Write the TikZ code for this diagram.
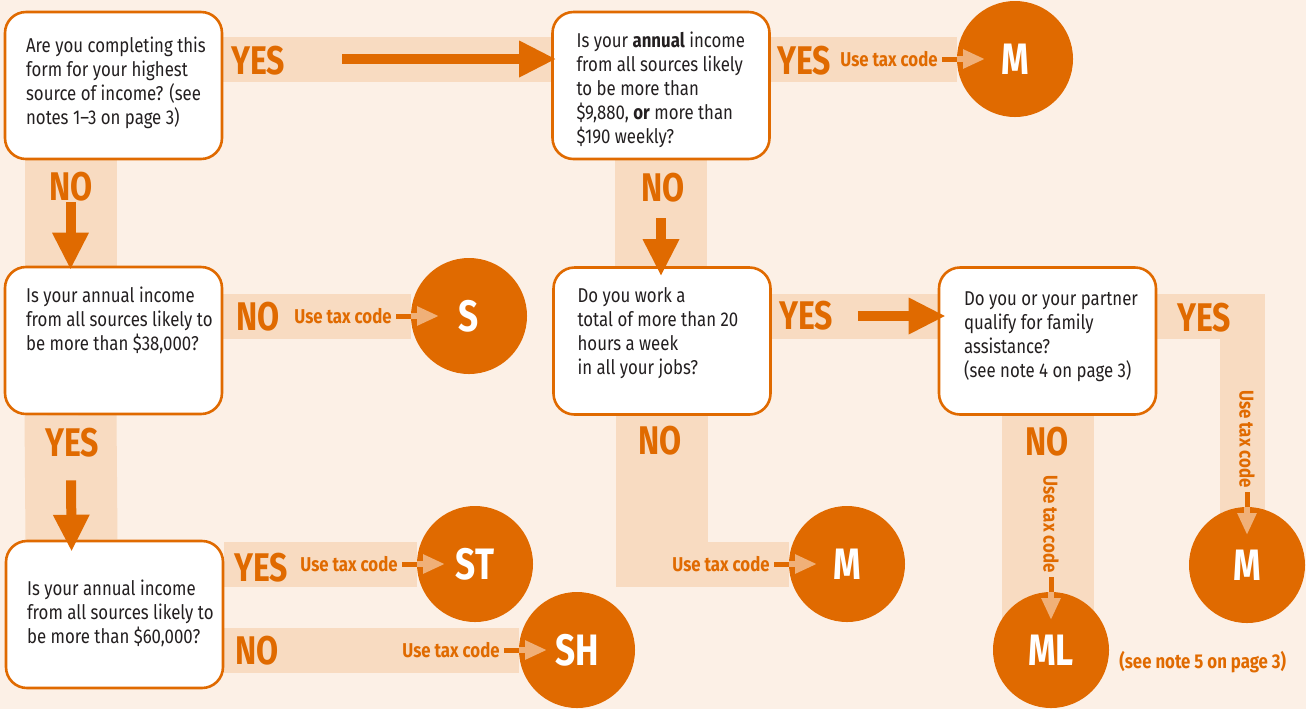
\documentclass[tikz,border=0pt]{standalone}
\usepackage{fontspec}
\setmainfont[FakeStretch=0.8]{Fira Sans}
\newfontfamily\bodyfont[FakeStretch=0.84,Ligatures=TeX]{Fira Sans}
\usetikzlibrary{
  arrows.meta,
  positioning,  % left=of, below right=of
  backgrounds,  % bands behind the boxes
}
\definecolor{tcorange}{HTML}{E06A00}
\definecolor{tcband}{HTML}{F8DBC1}
\definecolor{tcback}{HTML}{FCF0E6}
\definecolor{tclight}{HTML}{F0B078}
\definecolor{tcink}{HTML}{231F20}
\def\myhband{22.5pt}
\def\myvband{46pt}
\def\mycodedist{7.5pt}
\tikzset{
  question/.style={
    draw=tcorange,
    fill=white,
    line width=1.3pt,
    rounded corners=10.5pt,
    minimum width=108.5pt,
    minimum height=73.5pt,
    inner sep=0pt,
    rectangle
  },
  question text/.style={
    align=left,
    inner sep=0pt,
    text=tcink,
    font=\bodyfont\fontsize{10}{12}\selectfont
  },
  code/.style={
    circle,
    fill=tcorange,
    minimum size=58pt,
    inner sep=0pt,
    outer sep=0pt,
    text=white,
    font=\fontsize{22}{22}\selectfont\bfseries
  },
  answer/.style={
    text=tcorange,
    inner sep=0pt,
    font=\fontsize{20}{20}\selectfont\bfseries
  },
  use code/.style={
    text=tcorange,
    inner sep=2pt,
    font=\bodyfont\fontsize{10}{11}\selectfont\bfseries
  },
  hband/.style={draw=tcband, line width=\myhband},
  vband/.style={draw=tcband, line width=\myvband},
  big arrow/.style={
    draw=tcorange,
    line width=5pt,
    -{Triangle[length=18.5pt,width=17pt]}
  },
  code dash/.style={draw=tcorange, line width=2.5pt},
  code arrow/.style={
    draw=tclight,
    line width=2.75pt,
    shorten >=15pt,
    -{Triangle[length=11pt,width=9pt]}
  }
}

\begin{document}
\begin{tikzpicture}[x=0.5pt,y=-0.5pt]
% questions
\node[question] (q1) at (113.5,85.5)  {};
\node[question] (q2) at (661,85.5)    {};
\node[question] (q3) at (113.5,340.5) {};
\node[question] (q4) at (662,341)     {};
\node[question] (q5) at (114.5,614.5) {};
\node[question] (q6) at (1047.5,341)  {};
\node[question text] (t1) [below right=13pt and 11pt of q1.north west]
  {Are you completing this\\form for your highest\\source of income? (see\\notes 1\textendash3 on page 3)};
\node[question text] (t2) [below right=10.5pt and 12.5pt of q2.north west]
  {Is your \textbf{annual} income\\from all sources likely\\to be more than\\\$9,880, \textbf{or} more than\\\$190 weekly?};
\node[question text] (t3) [below right=10.5pt and 11pt of q3.north west]
  {Is your annual income\\from all sources likely to\\be more than \$38,000?};
\node[question text] (t4) [below right=10.5pt and 12.5pt of q4.north west]
  {Do you work a\\total of more than 20\\hours a week\\in all your jobs?};
\node[question text] (t5) [below right=20pt and 11pt of q5.north west]
  {Is your annual income\\from all sources likely to\\be more than \$60,000?};
\node[question text] (t6) [below right=12.5pt and 13pt of q6.north west]
  {Do you or your partner\\qualify for family\\assistance?\\(see note 4 on page 3)};
% tax codes
\node[code] (m1) at (1015,59)  {M};
\node[code] (s)  at (469,316)  {S};
\node[code] (st) at (475,564)  {ST};
\node[code] (sh) at (577,650)  {SH};
\node[code] (m2) at (847,564)  {M};
\node[code] (m3) at (1247,565) {M};
\node[code] (ml) at (1051,650) {ML};
% answers
\node[answer] (y1) at (258,61)   {YES};
\node[answer] (n1) at (71,187)   {NO};
\node[answer] (n3) at (258,317)  {NO};
\node[answer] (y3) at (72,443)   {YES};
\node[answer] (y5) at (261,568)  {YES};
\node[answer] (n5) at (257,651)  {NO};
\node[answer] (y2) at (804,61)   {YES};
\node[answer] (n2) at (663,188)  {NO};
\node[answer] (y4) at (806,316)  {YES};
\node[answer] (n4) at (660,441)  {NO};
\node[answer] (y6) at (1204,318) {YES};
\node[answer] (n6) at (1047,442) {NO};
% use tax code
\node[use code] (u2)  [left=\mycodedist of m1] {Use tax code};
\node[use code] (u3)  [left=\mycodedist of s]  {Use tax code};
\node[use code] (u5a) [left=\mycodedist of st] {Use tax code};
\node[use code] (u5b) [left=\mycodedist of sh] {Use tax code};
\node[use code] (u4)  [left=\mycodedist of m2] {Use tax code};
\node[use code,rotate=-90] (u6a) [above=\mycodedist of m3,anchor=east] {Use tax code};
\node[use code,rotate=-90] (u6b) [above=\mycodedist of ml,anchor=east] {Use tax code};
\node[use code,anchor=west] (note5) at (1115,662) {(see note 5 on page 3)};
\coordinate (c4) at (q4.south |- m2);
% bands
\begin{scope}[on background layer]
  \fill[tcback] (0,0) rectangle (1306,709);
  \draw[hband] (q1.east |- m1) -- (q2.west |- m1);
  \draw[hband] (q2.east |- m1) -- (m1);
  \draw[vband] ([xshift=-21.5pt]q1.south) -- ([xshift=-21.5pt]q3.north);
  \draw[hband] (q3.east |- s) -- (s);
  \draw[vband] ([xshift=-21.5pt]q3.south) -- ([xshift=-21.5pt]q5.north);
  \draw[hband] (q5.east |- st) -- (st);
  \draw[hband] (q5.east |- sh) -- (sh);
  \draw[vband] (q2.south) -- (q2.south |- q4.north);
  \draw[hband] (q4.east |- s) -- (q6.west |- s);
  \draw[vband] (q4.south) -- ([yshift=-11.5pt]c4);
  \draw[hband] (c4) -- (m2);
  \draw[hband] (q6.east |- s) -| ([xshift=-2.25pt]m3.center);
  \draw[vband] (q6.south) -- (q6.south |- ml);
\end{scope}
% arrows
\draw[big arrow,shorten <=59.5pt,shorten >=-2.5pt] (q1.east |- m1) -- (q2.west |- m1);
\draw[big arrow,shorten <=21pt,shorten >=-2pt] ([xshift=-21.5pt]q1.south) -- ([xshift=-21.5pt]q3.north);
\draw[big arrow,shorten <=32.5pt,shorten >=-6pt] ([xshift=-21.5pt]q3.south) -- ([xshift=-21.5pt]q5.north);
\draw[big arrow,shorten <=29pt,shorten >=-5pt] (q2.south) -- (q2.south |- q4.north);
\draw[big arrow,shorten <=43pt,shorten >=-4pt] (q4.east |- s) -- (q6.west |- s);
\foreach \u/\c in {u2/m1,u3/s,u5a/st,u5b/sh,u4/m2}{
  \draw[code dash] (\u) -- (\c);
  \draw[code arrow] (\c.west) -- (\c.center);
}
\foreach \u/\c in {u6a/m3,u6b/ml}{
  \draw[code dash] (\u) -- (\c);
  \draw[code arrow] (\c.north) -- (\c.center);
}
\end{tikzpicture}
\end{document}
